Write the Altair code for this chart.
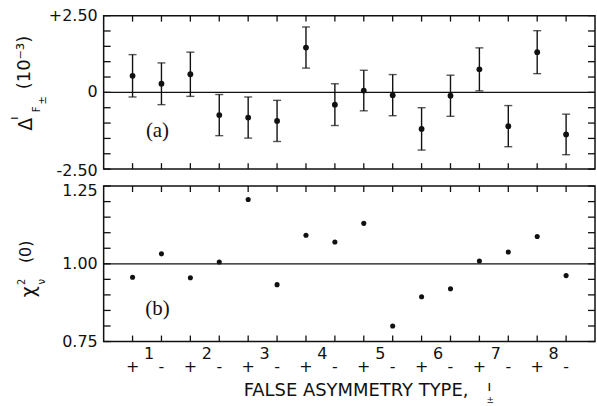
import altair as alt
import pandas as pd

# ---------------- data ----------------
positions = list(range(1, 17))
signs = ["+", "-"] * 8
type_numbers = [1, 2, 3, 4, 5, 6, 7, 8]
type_number_pos = [1.5, 3.5, 5.5, 7.5, 9.5, 11.5, 13.5, 15.5]

delta_vals = [0.54, 0.28, 0.59, -0.74, -0.82, -0.93, 1.46, -0.40,
              0.06, -0.09, -1.19, -0.11, 0.75, -1.10, 1.31, -1.37]
delta_err = [0.69, 0.68, 0.72, 0.67, 0.67, 0.67, 0.67, 0.68,
             0.66, 0.67, 0.69, 0.67, 0.70, 0.67, 0.70, 0.66]
chi_vals = [0.957, 1.032, 0.955, 1.006, 1.207, 0.933, 1.092, 1.070,
            1.130, 0.800, 0.894, 0.920, 1.009, 1.038, 1.088, 0.962]

ticks_a = [-2.5, -2.0, -1.5, -1.0, -0.5, 0.0, 0.5, 1.0, 1.5, 2.0, 2.5]
ticks_b = [0.75, 0.80, 0.85, 0.90, 0.95, 1.00, 1.05, 1.10, 1.15, 1.20, 1.25]
label_vals_a = [2.5, 0.0, -2.5]
label_text_a = ["+2.50", "0", "-2.50"]
label_vals_b = [1.25, 1.00, 0.75]
label_text_b = ["1.25", "1.00", "0.75"]

# style: vertical nudges of the end labels (pixels)
label_dy_a = [0, 0, 2]
label_dy_b = [5, 0, 0]

# ---------------- tables ----------------
df_a = pd.DataFrame({
    "pos": positions,
    "val": delta_vals,
    "lo": [v - e for v, e in zip(delta_vals, delta_err)],
    "hi": [v + e for v, e in zip(delta_vals, delta_err)],
})
df_b = pd.DataFrame({"pos": positions, "val": chi_vals, "sign": signs})
df_nums = pd.DataFrame({"pos": type_number_pos, "num": [str(n) for n in type_numbers]})
df_ta = pd.DataFrame({"v": ticks_a})
df_tb = pd.DataFrame({"v": ticks_b})

W = 493
HA = 154
HB = 156
INK = "#111111"
SANS = "DejaVu Sans"
SERIF = "Liberation Serif"

xsc = alt.Scale(domain=[0, 17])
ysa = alt.Scale(domain=[-2.5, 2.5])
ysb = alt.Scale(domain=[0.75, 1.25])

X = alt.X("pos:Q", scale=xsc, axis=None)


def Ya(field):
    return alt.Y(field, scale=ysa, axis=None)


def Yb(field):
    return alt.Y(field, scale=ysb, axis=None)


def txt(text, x, y, size, angle=0, font=SANS, align="center"):
    return alt.Chart(pd.DataFrame({"t": [text]})).mark_text(
        font=font, fontSize=size, angle=angle, align=align, baseline="middle", color=INK
    ).encode(text="t:N", x=alt.value(x), y=alt.value(y))


def frame_layers(df_ticks, df_pts, lab_vals, lab_text, lab_dy, Y, H):
    left = alt.Chart(df_ticks).mark_rule(color=INK, strokeWidth=1.3).encode(
        y=Y("v:Q"), x=alt.value(0), x2=alt.value(7))
    right = alt.Chart(df_ticks).mark_rule(color=INK, strokeWidth=1.3).encode(
        y=Y("v:Q"), x=alt.value(W - 7), x2=alt.value(W))
    top = alt.Chart(df_pts).mark_rule(color=INK, strokeWidth=1.3).encode(
        x=X, y=alt.value(0), y2=alt.value(6))
    bot = alt.Chart(df_pts).mark_rule(color=INK, strokeWidth=1.3).encode(
        x=X, y=alt.value(H - 6), y2=alt.value(H))
    layers = [left, right, top, bot]
    for v, t, dy in zip(lab_vals, lab_text, lab_dy):
        layers.append(
            alt.Chart(pd.DataFrame({"v": [v], "lab": [t]})).mark_text(
                font=SANS, fontSize=16, color=INK, align="right", baseline="middle", dy=dy
            ).encode(y=Y("v:Q"), x=alt.value(-6), text="lab:N")
        )
    return layers


# ---------------- panel (a) ----------------
zero_a = alt.Chart(pd.DataFrame({"v": [0.0]})).mark_rule(color=INK, strokeWidth=1.3).encode(
    y=Ya("v:Q"))
err_a = alt.Chart(df_a).mark_rule(color=INK, strokeWidth=1.4).encode(
    x=X, y=Ya("lo:Q"), y2="hi:Q")
cap_lo = alt.Chart(df_a).mark_tick(color=INK, orient="horizontal", size=8, thickness=1.4).encode(
    x=X, y=Ya("lo:Q"))
cap_hi = alt.Chart(df_a).mark_tick(color=INK, orient="horizontal", size=8, thickness=1.4).encode(
    x=X, y=Ya("hi:Q"))
pts_a = alt.Chart(df_a).mark_circle(color=INK, opacity=1, size=34).encode(
    x=X, y=Ya("val:Q"))
anchor = alt.Chart(pd.DataFrame({"a": [0]})).mark_rule(strokeOpacity=0, opacity=0).encode(
    x=alt.value(-103), x2=alt.value(-103), y=alt.value(-14), y2=alt.value(-14))

panel_a = alt.layer(
    *frame_layers(df_ta, df_a, label_vals_a, label_text_a, label_dy_a, Ya, HA),
    zero_a, err_a, cap_lo, cap_hi, pts_a, anchor,
    txt("(a)", 54, 116, 21, font=SERIF),
    txt("Δ", -78, 109, 19, angle=270),
    txt("ı", -90, 103, 13, angle=270),
    txt("F", -67, 94, 10, angle=270),
    txt("±", -61, 85, 10, angle=270),
    txt("(10⁻³)", -79, 47, 18, angle=270),
).properties(width=W, height=HA)

# ---------------- panel (b) ----------------
one_b = alt.Chart(pd.DataFrame({"v": [1.0]})).mark_rule(color=INK, strokeWidth=1.3).encode(
    y=Yb("v:Q"))
pts_b = alt.Chart(df_b).mark_circle(color=INK, opacity=1, size=26).encode(
    x=X, y=Yb("val:Q"))
sign_lbl = alt.Chart(df_b).mark_text(font=SANS, fontSize=16, color=INK, baseline="middle").encode(
    x=X, y=alt.value(182), text="sign:N")
num_lbl = alt.Chart(df_nums).mark_text(font=SANS, fontSize=16, color=INK, baseline="middle", dx=2).encode(
    x=X, y=alt.value(169), text="num:N")

panel_b = alt.layer(
    *frame_layers(df_tb, df_b, label_vals_b, label_text_b, label_dy_b, Yb, HB),
    one_b, pts_b, sign_lbl, num_lbl,
    txt("(b)", 54, 123, 21, font=SERIF),
    txt("χ", -75, 106, 19, angle=270),
    txt("2", -82, 96, 10, angle=270),
    txt("ν", -62, 96, 10, angle=270),
    txt("(0)", -78, 66, 16, angle=270),
    txt("FALSE ASYMMETRY TYPE,", 366, 206, 18, align="right"),
    txt("ı", 387, 201, 15),
    txt("±", 388, 215, 9),
).properties(width=W, height=HB)

chart = alt.vconcat(panel_a, panel_b, spacing=17, bounds="flush").properties(
    padding=0, background="white"
).configure_view(stroke=INK, strokeWidth=1.5)

chart.save("out.html", embed_options={"renderer": "svg", "actions": False})
